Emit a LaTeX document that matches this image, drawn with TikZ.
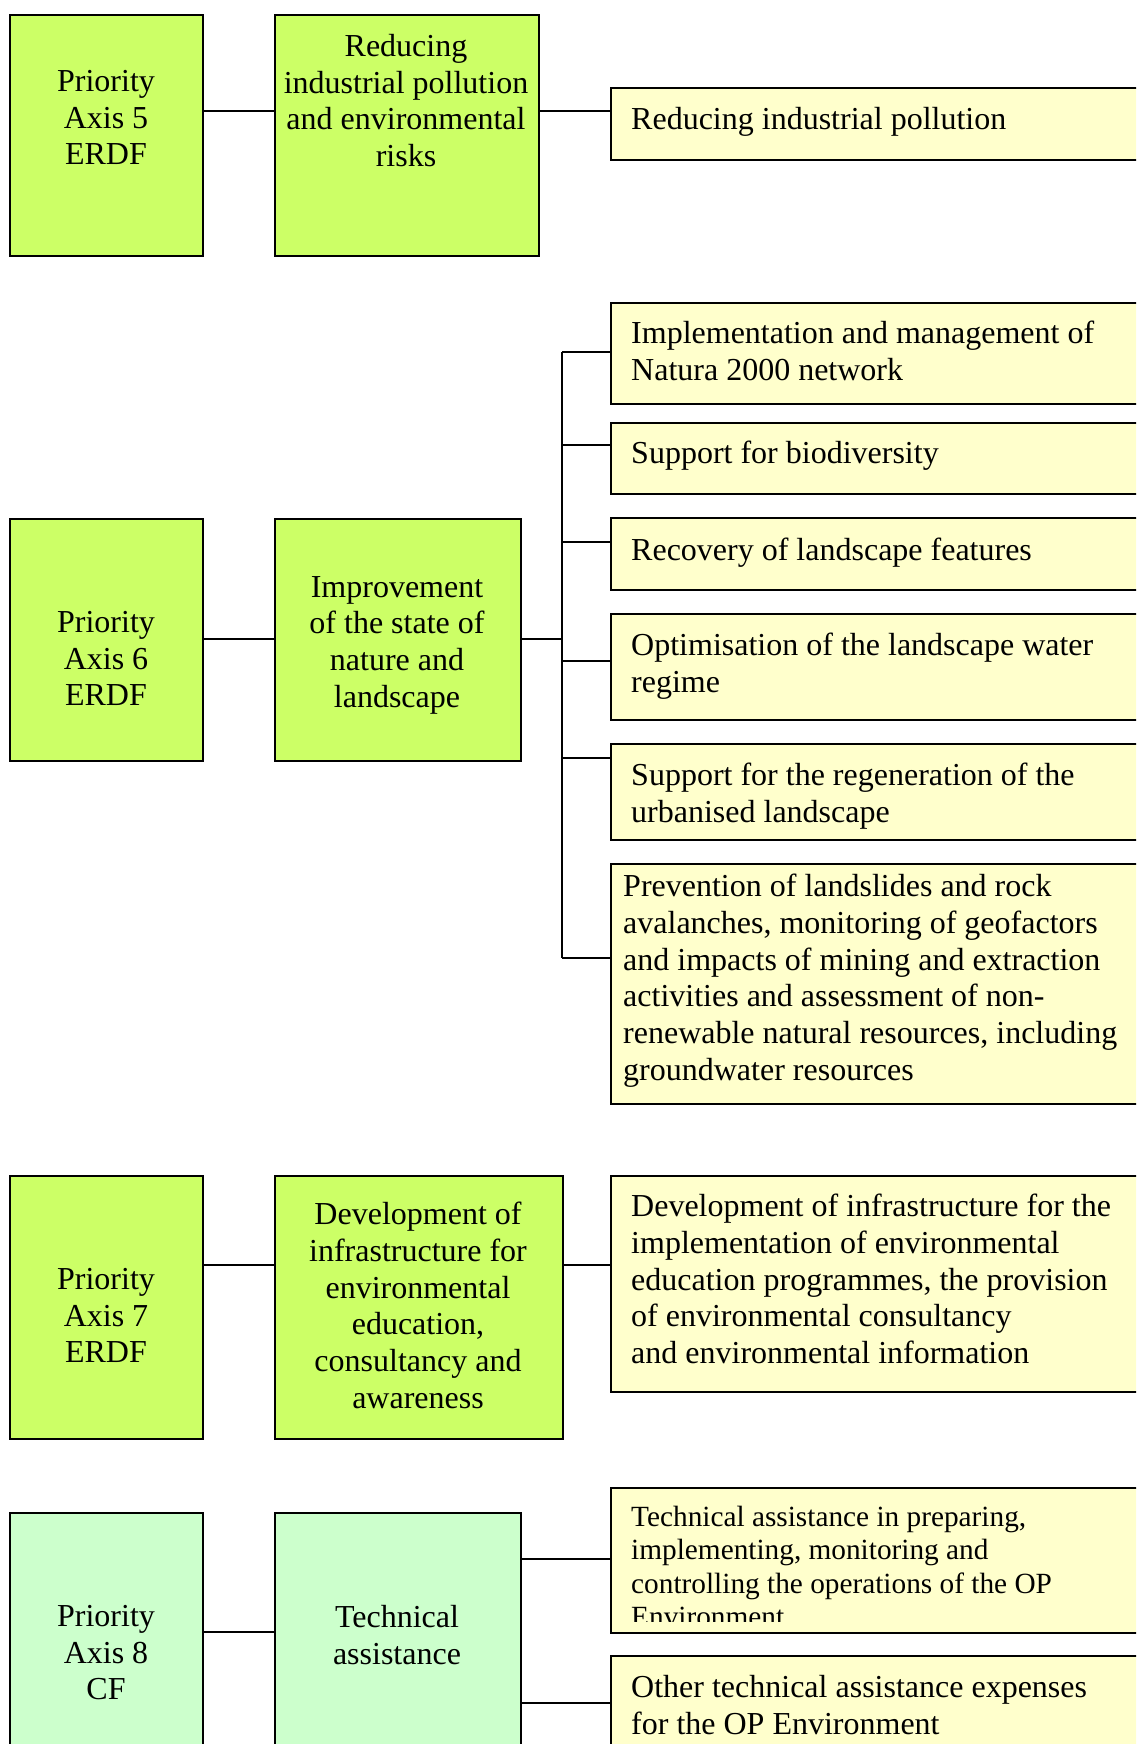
\documentclass[tikz,border=0pt]{standalone}
\usepackage{fontspec}
\setmainfont{Liberation Serif}
\definecolor{lime}{HTML}{CCFF66}
\definecolor{mint}{HTML}{CCFFCC}
\definecolor{cream}{HTML}{FFFFCC}
\tikzset{
  boxbase/.style={draw=black, line width=1.8pt, rectangle, inner sep=0pt, anchor=north west},
  gbox/.style={boxbase, fill=lime},
  mbox/.style={boxbase, fill=mint},
  ybox/.style={boxbase, fill=cream},
  ctext/.style={inner sep=0pt, anchor=north, align=center, font=\fontsize{32}{36.7}\selectfont},
  ltext/.style={inner sep=0pt, anchor=north west, align=left, font=\fontsize{32}{36.7}\selectfont},
  stext/.style={inner sep=0pt, anchor=north west, align=left, font=\fontsize{29.3}{33.3}\selectfont},
  conn/.style={draw=black, line width=1.6pt}
}
\newcommand{\bx}[6]{\node[#1, minimum width=#5-#3, minimum height=#6-#4] (#2) at (#3,#4) {};}
\begin{document}
\begin{tikzpicture}[x=1pt,y=-1pt]
\clip (0,0) rectangle (1136,1744);
\fill[white] (0,0) rectangle (1136,1744);
% ---- Section 5
\bx{gbox}{p5}{9}{14}{202}{255}
\bx{gbox}{r5}{274}{14}{538}{255}
\bx{ybox}{y51}{610}{87}{1150}{159}
\node[ctext] (p5t) at (106,70) {Priority\\Axis 5\\ERDF};
\node[ctext] (r5t) at (406,34) {Reducing\\industrial pollution\\and environmental\\risks};
\node[ltext] (y51t) at (631,107) {Reducing industrial pollution};
\coordinate (c5) at (0,111);
\draw[conn] (p5.east |- c5) -- (r5.west |- c5);
\draw[conn] (r5.east |- c5) -- (y51.west |- c5);
% ---- Section 6
\bx{gbox}{p6}{9}{518}{202}{760}
\bx{gbox}{i6}{274}{518}{520}{760}
\bx{ybox}{b1}{610}{302}{1150}{403}
\bx{ybox}{b2}{610}{422}{1150}{493}
\bx{ybox}{b3}{610}{517}{1150}{589}
\bx{ybox}{b4}{610}{613}{1150}{719}
\bx{ybox}{b5}{610}{743}{1150}{839}
\bx{ybox}{b6}{610}{863}{1150}{1103}
\node[ctext] (p6t) at (106,611) {Priority\\Axis 6\\ERDF};
\node[ctext] (i6t) at (397,576) {Improvement\\of the state of\\nature and\\landscape};
\node[ltext] (b1t) at (631,321) {Implementation and management of\\Natura 2000 network};
\node[ltext] (b2t) at (631,441) {Support for biodiversity};
\node[ltext] (b3t) at (631,538) {Recovery of landscape features};
\node[ltext] (b4t) at (631,633) {Optimisation of the landscape water\\regime};
\node[ltext] (b5t) at (631,763) {Support for the regeneration of the\\urbanised landscape};
\node[ltext] (b6t) at (623,874) {Prevention of landslides and rock\\avalanches, monitoring of geofactors\\and impacts of mining and extraction\\activities and assessment of non-\\renewable natural resources, including\\groundwater resources};
\coordinate (c6) at (0,639);
\coordinate (bus) at (562,639);
\coordinate (bustop) at (562,352);
\coordinate (busbot) at (562,958);
\draw[conn] (p6.east |- c6) -- (i6.west |- c6);
\draw[conn] (i6.east |- c6) -- (bus);
\draw[conn] (bustop) -- (busbot);
\draw[conn] (bustop) -- (b1.west |- bustop);
\draw[conn] (bus |- 0,445) -- (b2.west |- 0,445);
\draw[conn] (bus |- 0,542) -- (b3.west |- 0,542);
\draw[conn] (bus |- 0,661) -- (b4.west |- 0,661);
\draw[conn] (bus |- 0,758) -- (b5.west |- 0,758);
\draw[conn] (busbot) -- (b6.west |- busbot);
% ---- Section 7
\bx{gbox}{p7}{9}{1175}{202}{1438}
\bx{gbox}{d7}{274}{1175}{562}{1438}
\bx{ybox}{y7}{610}{1175}{1150}{1391}
\node[ctext] (p7t) at (106,1268) {Priority\\Axis 7\\ERDF};
\node[ctext] (d7t) at (418,1202) {Development of\\infrastructure for\\environmental\\education,\\consultancy and\\awareness};
\node[ltext] (y7t) at (631,1194) {Development of infrastructure for the\\implementation of environmental\\education programmes, the provision\\of environmental consultancy\\and environmental information};
\coordinate (c7) at (0,1265);
\draw[conn] (p7.east |- c7) -- (d7.west |- c7);
\draw[conn] (d7.east |- c7) -- (y7.west |- c7);
% ---- Section 8
\bx{mbox}{p8}{9}{1512}{202}{1770}
\bx{mbox}{t8}{274}{1512}{520}{1770}
\bx{ybox}{y81}{610}{1487}{1150}{1632}
\bx{ybox}{y82}{610}{1655}{1150}{1770}
\node[ctext] (p8t) at (106,1605) {Priority\\Axis 8\\CF};
\node[ctext] (t8t) at (397,1605) {Technical\\assistance};
\begin{scope}
\clip (600,1490) rectangle (1140,1621);
\node[stext] (y81t) at (631,1506) {Technical assistance in preparing,\\implementing, monitoring and\\controlling the operations of the OP\\Environment};
\end{scope}
\node[ltext] (y82t) at (631,1675) {Other technical assistance expenses\\for the OP Environment};
\coordinate (c8) at (0,1632);
\coordinate (c81) at (0,1559);
\coordinate (c82) at (0,1703);
\draw[conn] (p8.east |- c8) -- (t8.west |- c8);
\draw[conn] (t8.east |- c81) -- (y81.west |- c81);
\draw[conn] (t8.east |- c82) -- (y82.west |- c82);
\end{tikzpicture}
\end{document}
